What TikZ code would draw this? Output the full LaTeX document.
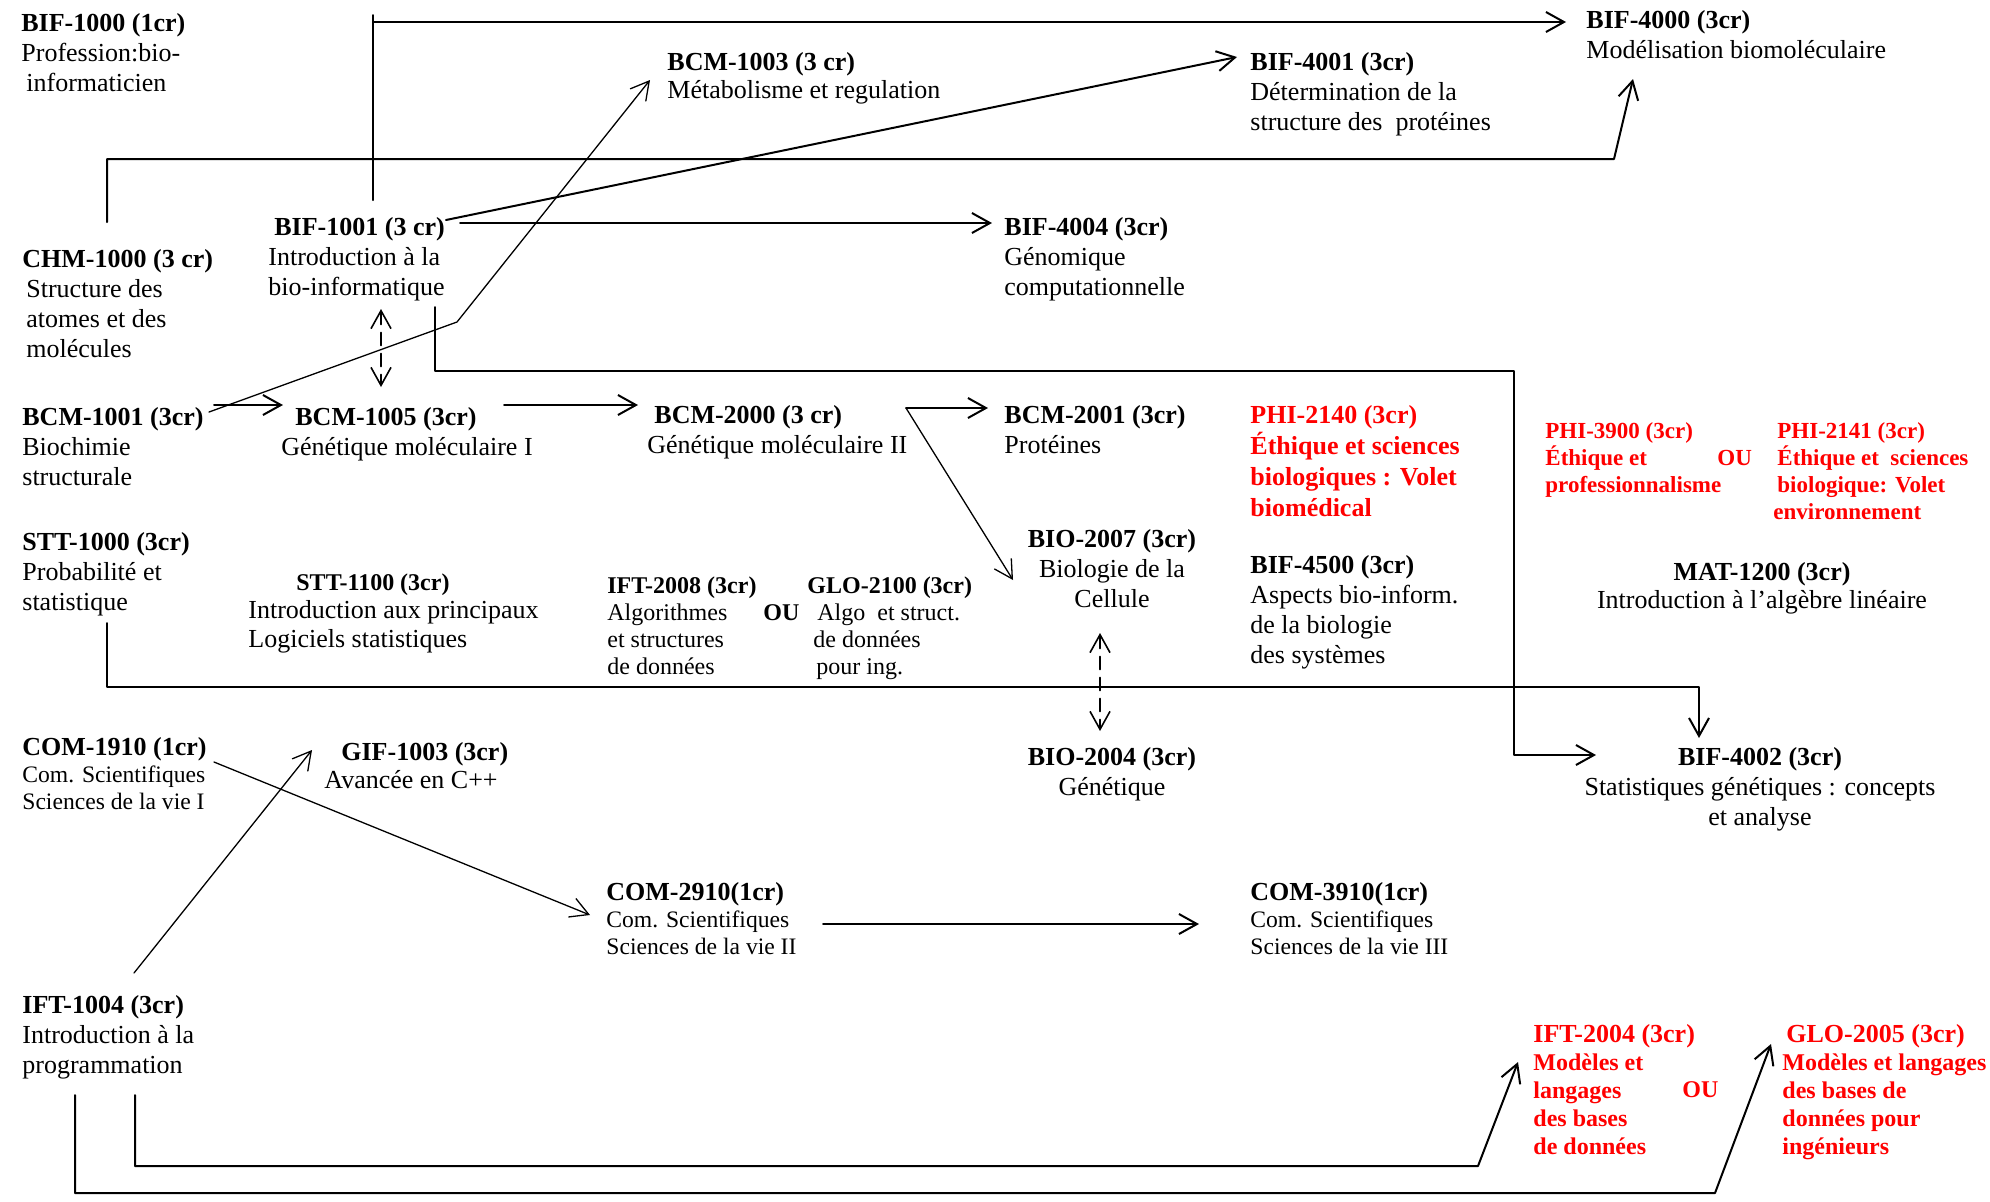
\documentclass[tikz,border=0pt]{standalone}
\usepackage{fontspec}
\setmainfont{Liberation Serif}
\usetikzlibrary{arrows.meta,calc}
\definecolor{optred}{RGB}{255,0,0}
\newcommand{\smalltxt}{\fontsize{11.8}{13.5}\selectfont}
\newcommand{\redtxt}{\fontsize{12}{14}\selectfont}

\begin{document}
\begin{tikzpicture}[x=0.5pt,y=-0.5pt,
    >={Straight Barb[length=9pt,width=10pt]},
    line join=round, line cap=round,
    course/.style={anchor=base west, align=flush left, inner sep=0pt, text width=300pt,
        font=\fontsize{13}{15}\selectfont},
    ccourse/.style={course, anchor=base, align=flush center},
    alt/.style={course, font=\fontsize{12}{13.5}\selectfont},
    comm/.style={course, font=\fontsize{13}{13.5}\selectfont},
    opt/.style={course, text=optred, font=\bfseries\fontsize{11.5}{13.5}\selectfont},
    link/.style={line width=1pt},
    thinlink/.style={line width=0.65pt},
    dashlink/.style={line width=0.8pt, dash pattern=on 6.5pt off 4pt}]
\useasboundingbox (0,0) rectangle (1990,1201);

% first year
\node[course] (bif1000) at (21,31) {\textbf{BIF-1000 (1cr)}\\Profession:bio-\\\hspace*{2.5pt}informaticien};
\node[course] (bif1001) at (268,235) {\hspace*{3pt}\textbf{BIF-1001 (3 cr)}\\Introduction à la\\bio-informatique};
\node[course] (chm1000) at (22,267) {\textbf{CHM-1000 (3 cr)}\\\hspace*{2pt}Structure des\\\hspace*{2pt}atomes et des\\\hspace*{2pt}molécules};
\node[course] (bcm1001) at (22,425) {\textbf{BCM-1001 (3cr)}\\Biochimie\\structurale};
\node[course] (bcm1005) at (281,425) {\hspace*{7pt}\textbf{BCM-1005 (3cr)}\\Génétique moléculaire I};
\node[course] (stt1000) at (22,550) {\textbf{STT-1000 (3cr)}\\Probabilité et\\statistique};
\node[course, font=\fontsize{13}{14.25}\selectfont] (stt1100) at (248,590)
    {\hspace*{24pt}{\fontsize{12}{14}\selectfont\textbf{STT-1100 (3cr)}}\\Introduction aux principaux\\Logiciels statistiques};
\node[comm] (com1910) at (22,755) {\textbf{COM-1910 (1cr)}\\{\smalltxt Com. Scientifiques}\\{\smalltxt Sciences de la vie I}};
\node[course, font=\fontsize{13}{14}\selectfont] (gif1003) at (324,760) {\hspace*{8.5pt}\textbf{GIF-1003 (3cr)}\\Avancée en C++};
\node[course] (ift1004) at (22,1013) {\textbf{IFT-1004 (3cr)}\\Introduction à la\\programmation};

% middle
\node[course, font=\fontsize{13}{14}\selectfont] (bcm1003) at (667,70) {\textbf{BCM-1003 (3 cr)}\\Métabolisme et regulation};
\node[course] (bcm2000) at (647,423) {\hspace*{3.5pt}\textbf{BCM-2000 (3 cr)}\\Génétique moléculaire II};
\node[alt] (ift2008) at (607,593) {\textbf{IFT-2008 (3cr)}\\Algorithmes\\et structures\\de données};
\node[alt, font=\bfseries\fontsize{12}{13.5}\selectfont] (ou2) at (763,620) {OU};
\node[alt] (glo2100) at (807,593) {\textbf{GLO-2100 (3cr)}\\\hspace*{5pt}Algo\ \ et struct.\\\hspace*{3pt}de données\\\hspace*{4.5pt}pour ing.};
\node[comm] (com2910) at (606,900) {\textbf{COM-2910(1cr)}\\{\smalltxt Com. Scientifiques}\\{\smalltxt Sciences de la vie II}};
\node[course] (bif4004) at (1004,235) {\textbf{BIF-4004 (3cr)}\\Génomique\\computationnelle};
\node[course] (bcm2001) at (1004,423) {\textbf{BCM-2001 (3cr)}\\Protéines};
\node[ccourse] (bio2007) at (1112,547) {\textbf{BIO-2007 (3cr)}\\Biologie de la\\Cellule};
\node[ccourse] (bio2004) at (1112,765) {\textbf{BIO-2004 (3cr)}\\Génétique};

% right side
\node[course] (bif4001) at (1250,70) {\textbf{BIF-4001 (3cr)}\\Détermination de la\\structure des\ \ protéines};
\node[course] (bif4000) at (1586,28) {\textbf{BIF-4000 (3cr)}\\Modélisation biomoléculaire};
\node[course, text=optred, font=\bfseries\fontsize{13}{15.5}\selectfont] (phi2140) at (1250,423)
    {PHI-2140 (3cr)\\Éthique et sciences\\biologiques : Volet\\biomédical};
\node[opt] (phi3900) at (1545,438) {PHI-3900 (3cr)\\Éthique et\\professionnalisme};
\node[opt] (ou1) at (1717,465) {OU};
\node[opt] (phi2141) at (1773,438) {\hspace*{2pt}PHI-2141 (3cr)\\\hspace*{2pt}Éthique et\ \ sciences\\\hspace*{2pt}biologique: Volet\\environnement};
\node[course] (bif4500) at (1250,573) {\textbf{BIF-4500 (3cr)}\\Aspects bio-inform.\\de la biologie\\des systèmes};
\node[ccourse, font=\fontsize{13}{14}\selectfont] (mat1200) at (1762,580) {\textbf{MAT-1200 (3cr)}\\Introduction à l’algèbre linéaire};
\node[ccourse] (bif4002) at (1760,765) {\textbf{BIF-4002 (3cr)}\\Statistiques génétiques : concepts\\et analyse};
\node[comm] (com3910) at (1250,900) {\textbf{COM-3910(1cr)}\\{\smalltxt Com. Scientifiques}\\{\smalltxt Sciences de la vie III}};
\node[course, text=optred, font=\bfseries\fontsize{13}{14}\selectfont] (ift2004) at (1533,1042)
    {IFT-2004 (3cr)\\{\redtxt Modèles et}\\{\redtxt langages}\\{\redtxt des bases}\\{\redtxt de données}};
\node[course, text=optred, font=\bfseries\fontsize{12}{14}\selectfont] (ou3) at (1682,1097) {OU};
\node[course, text=optred, font=\bfseries\fontsize{13}{14}\selectfont] (glo2005) at (1782,1042)
    {\hspace*{2pt}GLO-2005 (3cr)\\{\redtxt Modèles et langages}\\{\redtxt des bases de}\\{\redtxt données pour}\\{\redtxt ingénieurs}};

% prerequisites
\draw[link,->] ($(bif1001.base west)+(105,-35)$) -- ++(0,-185) ++(0,7) -- ($(bif4000.base west)+(-20,-6)$);
\draw[link,->] ($(chm1000.base west)+(85,-45)$) |- ($(bif4000.base west)+(28,131)$) -- ($(bif4000.base west)+(47,51)$);
\draw[link,->] ($(bif1001.base west)+(178,-15)$) -- ($(bif4001.base west)+(-13,-13)$);
\draw[link,->] ($(bif1001.base west)+(192,-12)$) -- ($(bif4004.base west)+(-12,-12)$);
\draw[thinlink,->] ($(bcm1001.base west)+(187,-13)$) -- ++(248,-90) -- ($(bcm1003.base west)+(-17,10)$);
\draw[link,->] ($(bif1001.base west)+(167,72)$) -- ++(0,64) -| ($(bif4002.base)+(-246,-10)$) -- ($(bif4002.base)+(-164,-10)$);
\draw[dashlink,<->] ($(bif1001.base west)+(113,74)$) -- ($(bcm1005.base west)+(100,-38)$);
\draw[link,->] ($(bcm1001.base west)+(192,-20)$) -- ($(bcm1005.base west)+(2,-20)$);
\draw[link,->] ($(bcm1005.base west)+(223,-20)$) -- ($(bcm2000.base west)+(-9,-18)$);
\coordinate (fork) at ($(bcm2000.base west)+(259,-15)$);
\draw[link,->] (fork) -- ($(bcm2001.base west)+(-16,-15)$);
\draw[thinlink,->] (fork) -- ($(bio2007.base)+(-99,33)$);
\draw[dashlink,<->] ($(bio2007.base)+(-12,86)$) -- ($(bio2004.base)+(-12,-34)$);
\draw[link,->] ($(stt1000.base west)+(85,73)$) -- ++(0,64) -| ($(bif4002.base)+(-61,-27)$);
\draw[thinlink,->] ($(com1910.base west)+(192,7)$) -- ($(com2910.base west)+(-16,15)$);
\draw[thinlink,->] ($(ift1004.base west)+(112,-40)$) -- ($(gif1003.base west)+(-12,-10)$);
\draw[link,->] ($(com2910.base west)+(217,24)$) -- ($(com3910.base west)+(-51,24)$);
\draw[link,->] ($(ift1004.base west)+(113,82)$) |- ($(ift2004.base west)+(-55,124)$) -- ($(ift2004.base west)+(-15,20)$);
\draw[link,->] ($(ift1004.base west)+(53,82)$) |- ($(glo2005.base west)+(-67,151)$) -- ($(glo2005.base west)+(-11,2)$);
\end{tikzpicture}
\end{document}
